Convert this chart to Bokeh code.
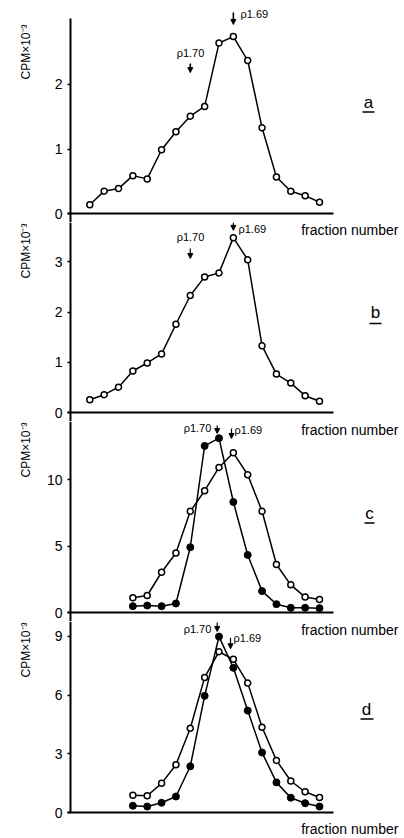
import math
from bokeh.plotting import figure
from bokeh.layouts import column
from bokeh.models import Label, Arrow, NormalHead, Range1d, FixedTicker, LinearAxis
from bokeh.embed import file_html
from bokeh.resources import INLINE

# ---------------- data ----------------
frac_ab = list(range(1, 18))
frac_cd = list(range(4, 18))

a_open = [0.14, 0.35, 0.39, 0.59, 0.54, 0.99, 1.27, 1.51, 1.66, 2.64, 2.74, 2.37, 1.33, 0.57, 0.35, 0.28, 0.18]
b_open = [0.26, 0.36, 0.51, 0.83, 0.99, 1.17, 1.76, 2.33, 2.70, 2.78, 3.48, 3.04, 1.33, 0.77, 0.59, 0.34, 0.23]
c_open = [1.13, 1.30, 3.05, 4.50, 7.63, 9.18, 10.93, 12.03, 10.38, 7.63, 3.63, 2.10, 1.18, 1.00]
c_filled = [0.50, 0.55, 0.50, 0.70, 4.93, 12.55, 13.13, 8.33, 4.35, 1.63, 0.65, 0.38, 0.38, 0.35]
d_open = [0.90, 0.87, 1.50, 2.45, 4.31, 6.90, 8.21, 7.82, 6.61, 4.36, 2.67, 1.62, 1.07, 0.78]
d_filled = [0.36, 0.32, 0.51, 0.83, 2.37, 5.96, 8.98, 7.39, 5.21, 3.07, 1.55, 0.77, 0.49, 0.32]

ticks_a = [0, 1, 2]
ticks_b = [0, 1, 2, 3]
ticks_c = [0, 5, 10]
ticks_d = [0, 3, 6, 9]

panel_letters = ["a", "b", "c", "d"]
ylabel = "CPM×10⁻³"
xlabel = "fraction number"
rho_70 = "ρ1.70"
rho_69 = "ρ1.69"

FONT = "Liberation Sans"
XR = (-5.220, 22.921)      # whole canvas width in fraction units
X_AXIS = (-0.553, 17.975)  # extent of the drawn x axis
Y_AXIS_X = -0.344          # where the y axis stands


def make_panel(height, yr, ybounds, ticks):
    p = figure(width=404, height=height, x_range=Range1d(*XR), y_range=Range1d(*yr),
               output_backend="svg", toolbar_location=None,
               x_axis_location=None, y_axis_location=None,
               min_border=0, min_border_left=0, min_border_right=0,
               min_border_top=0, min_border_bottom=0)
    p.outline_line_color = None
    p.grid.visible = False
    p.background_fill_color = "white"
    p.border_fill_color = "white"
    ya = LinearAxis(fixed_location=Y_AXIS_X, bounds=ybounds, ticker=FixedTicker(ticks=ticks))
    ya.minor_tick_line_color = None
    ya.major_tick_out = 3
    ya.major_tick_in = 0
    ya.major_tick_line_width = 1.5
    ya.axis_line_width = 2
    ya.major_label_text_font = FONT
    ya.major_label_text_font_size = "14px"
    ya.major_label_text_color = "black"
    ya.major_label_standoff = 5
    p.add_layout(ya, "left")
    xa = LinearAxis(fixed_location=0, bounds=X_AXIS, ticker=FixedTicker(ticks=[]))
    xa.major_tick_line_color = None
    xa.minor_tick_line_color = None
    xa.major_label_text_font_size = "0px"
    xa.major_label_standoff = 0
    xa.axis_line_width = 2
    p.add_layout(xa, "below")
    return p


def series(p, xs, ys, filled):
    p.line(xs, ys, line_color="black", line_width=1.5)
    if filled:
        p.scatter(xs, ys, marker="circle", size=7, fill_color="black", line_color="black", line_width=1)
    else:
        p.scatter(xs, ys, marker="circle", size=6, fill_color="white", line_color="black", line_width=1.5)


def text(p, x, y, s, size="11px", align="center", baseline="middle", angle=0.0):
    p.add_layout(Label(x=x, y=y, text=s, text_align=align, text_baseline=baseline, angle=angle,
                       text_font=FONT, text_font_size=size, text_color="black"))


def ylab(p, y_top):
    # vertical label whose end (the exponent) sits at y_top
    text(p, -3.409, y_top, ylabel, size="12px", align="right", angle=math.pi / 2)


def arrow(p, x, y0, y1, w=1.2):
    p.add_layout(Arrow(end=NormalHead(size=5, fill_color="black", line_color="black"),
                       x_start=x, y_start=y0, x_end=x, y_end=y1,
                       line_color="black", line_width=w))


def underline(p, x0, x1, y):
    p.add_layout(Arrow(start=None, end=None, x_start=x0, y_start=y, x_end=x1, y_end=y,
                       line_color="black", line_width=1.5))


# ---------------- panel a ----------------
pa = make_panel(222, (-0.1345, 3.298), (-0.1345, 3.02), ticks_a)
series(pa, frac_ab, a_open, False)
ylab(pa, 2.927)
text(pa, 8.015, 2.479, rho_70)
arrow(pa, 8.0, 2.324, 2.184, w=1.6)
arrow(pa, 11.0, 3.113, 2.927, w=1.6)
text(pa, 11.497, 3.082, rho_69, align="left")
text(pa, 20.414, 1.721, panel_letters[0], size="17px")
underline(pa, 19.996, 20.832, 1.574)

# ---------------- panel b ----------------
pb = make_panel(199, (-0.1729, 3.781), (-0.1729, 3.781), ticks_b)
series(pb, frac_ab, b_open, False)
ylab(pb, 3.761)
text(pb, 22.503, 3.625, xlabel, size="14px", align="right")
text(pb, 8.015, 3.483, rho_70)
arrow(pb, 8.0, 3.264, 3.066)
arrow(pb, 11.0, 3.781, 3.625)
text(pb, 11.358, 3.645, rho_69, align="left")
text(pb, 20.902, 1.993, panel_letters[1], size="17px")
underline(pb, 20.484, 21.320, 1.774)

# ---------------- panel c ----------------
pc = make_panel(200, (-0.654, 14.383), (-0.654, 14.383), ticks_c)
series(pc, frac_cd, c_open, False)
series(pc, frac_cd, c_filled, True)
ylab(pc, 14.31)
text(pc, 22.503, 13.74, xlabel, size="14px", align="right")
text(pc, 8.502, 13.86, rho_70)
arrow(pc, 9.874, 14.08, 13.48)
arrow(pc, 10.871, 13.86, 13.11)
text(pc, 11.079, 13.71, rho_69, align="left")
text(pc, 20.484, 7.466, panel_letters[2], size="17px")
underline(pc, 20.136, 20.832, 6.752)

# ---------------- panel d ----------------
pd_ = make_panel(217, (-1.310, 9.750), (0, 9.750), ticks_d)
series(pd_, frac_cd, d_open, False)
series(pd_, frac_cd, d_filled, True)
ylab(pd_, 9.699)
text(pd_, 22.503, 9.292, xlabel, size="14px", align="right")
text(pd_, 22.503, -0.851, xlabel, size="14px", align="right")
text(pd_, 8.502, 9.393, rho_70)
arrow(pd_, 9.874, 9.699, 9.241)
arrow(pd_, 10.801, 8.92, 8.36)
text(pd_, 11.010, 8.92, rho_69, align="left")
text(pd_, 20.275, 5.265, panel_letters[3], size="17px")
underline(pd_, 19.857, 20.763, 4.781)

layout = column(pa, pb, pc, pd_, spacing=0)
open("out.html", "w").write(file_html(layout, INLINE))
